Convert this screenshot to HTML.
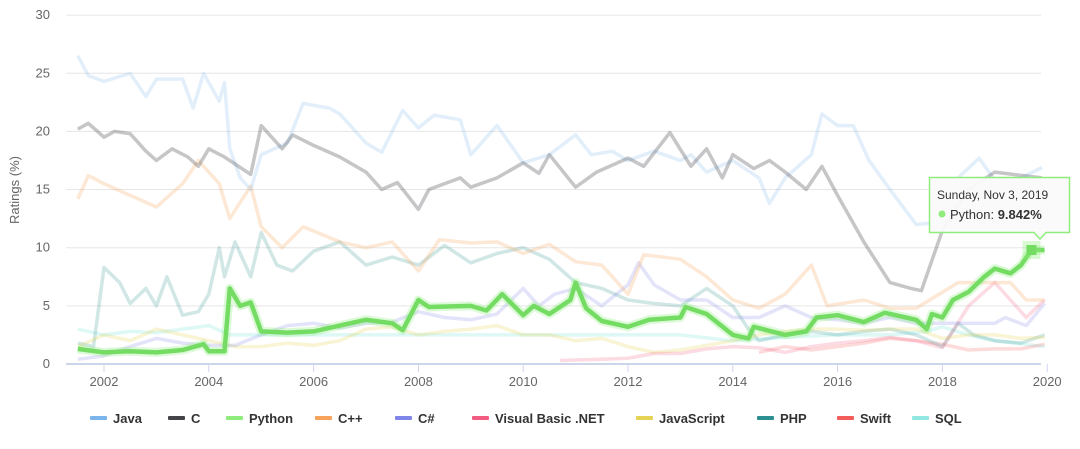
<!DOCTYPE html>
<html><head><meta charset="utf-8"><style>
body{margin:0;background:#fff;width:1080px;height:449px;overflow:hidden;font-family:"Liberation Sans",sans-serif}
svg{position:absolute;left:0;top:0}
text{font-family:"Liberation Sans",sans-serif}
</style></head><body>
<svg id="chart" width="1080" height="449"></svg>
<script>
const NS='http://www.w3.org/2000/svg';
const yTicks=[0,5,10,15,20,25,30];
const xTicks=[2002,2004,2006,2008,2010,2012,2014,2016,2018,2020];
const seriesNames=['Java','C','Python','C++','C#','Visual Basic .NET','JavaScript','PHP','Swift','SQL'];
const seriesColors=['#7cb5ec','#434348','#90ed7d','#f7a35c','#8085e9','#f15c80','#e4d354','#2b908f','#f45b5b','#91e8e1'];
const legendX=[113,191,249,338,418,495,659,780,860,935];

const javaX=[2001.5,2001.7,2002,2002.5,2002.8,2003,2003.5,2003.7,2003.9,2004.2,2004.3,2004.4,2004.6,2004.8,2005,2005.5,2005.8,2006.3,2006.5,2007,2007.3,2007.7,2008,2008.3,2008.8,2009,2009.5,2010,2010.5,2011,2011.3,2011.7,2012,2012.5,2013,2013.2,2013.5,2014,2014.5,2014.7,2015,2015.5,2015.7,2016,2016.3,2016.6,2017,2017.5,2018,2018.3,2018.7,2019,2019.5,2019.9];
const javaY=[26.5,24.8,24.3,25,23,24.5,24.5,22,25,22.6,24.2,18.5,16,15,18,19,22.4,22,21.5,19,18.2,21.8,20.3,21.4,21,18,20.5,17.3,18,19.7,18,18.3,17.5,18.3,17.5,18,16.5,17.5,16,13.8,16,18,21.5,20.5,20.5,17.5,15,12,12.2,16,17.7,15.8,16,16.9];
const cX=[2001.5,2001.7,2002,2002.2,2002.5,2002.8,2003,2003.3,2003.6,2003.8,2004,2004.3,2004.8,2005,2005.4,2005.6,2006,2006.5,2007,2007.3,2007.6,2008,2008.2,2008.8,2009,2009.5,2010,2010.3,2010.5,2011,2011.4,2012,2012.3,2012.8,2013.2,2013.5,2013.8,2014,2014.4,2014.7,2015,2015.4,2015.7,2016,2016.5,2017,2017.4,2017.6,2018,2018.5,2019,2019.9];
const cY=[20.2,20.7,19.5,20,19.8,18.3,17.5,18.5,17.8,17,18.5,17.8,16.3,20.5,18.5,19.7,18.8,17.8,16.5,15,15.6,13.3,15,16,15.2,16,17.3,16.4,18,15.2,16.5,17.7,17,19.9,17,18.5,16,18,16.8,17.5,16.5,15,17,14.5,10.5,7,6.5,6.3,11.5,15,16.5,16];
const pyX=[2001.5,2002,2002.5,2003,2003.5,2003.9,2004,2004.3,2004.4,2004.6,2004.8,2005,2005.5,2006,2006.5,2007,2007.5,2007.7,2008,2008.2,2009,2009.3,2009.6,2010,2010.2,2010.5,2010.9,2011,2011.2,2011.5,2012,2012.4,2013,2013.1,2013.5,2014,2014.3,2014.4,2015,2015.4,2015.6,2016,2016.5,2016.9,2017.5,2017.7,2017.8,2018,2018.2,2018.5,2018.8,2019,2019.3,2019.5,2019.7,2019.95];
const pyY=[1.3,1,1.1,1,1.2,1.7,1.1,1.1,6.5,5,5.3,2.8,2.7,2.8,3.3,3.8,3.5,2.9,5.5,4.9,5,4.6,6,4.2,5,4.3,5.5,7,4.8,3.7,3.2,3.8,4,4.9,4.3,2.5,2.2,3.2,2.5,2.8,4,4.2,3.6,4.4,3.8,3,4.3,4,5.5,6.2,7.5,8.2,7.8,8.5,9.8,9.8];
const cppX=[2001.5,2001.7,2002,2002.5,2003,2003.5,2003.8,2004.2,2004.4,2004.8,2005,2005.4,2005.8,2006.5,2007,2007.5,2008,2008.4,2009,2009.5,2010,2010.5,2011,2011.5,2012,2012.3,2013,2013.5,2014,2014.5,2015,2015.5,2015.8,2016.5,2017,2017.5,2018.3,2018.8,2019.3,2019.6,2019.95];
const cppY=[14.2,16.2,15.5,14.5,13.5,15.5,17.5,15.5,12.5,15.3,11.8,10,11.8,10.5,10,10.5,8,10.7,10.4,10.5,9.5,10.3,8.8,8.5,6,9.4,9,7.5,5.5,4.8,6,8.5,5,5.5,4.8,4.8,7,7,7,5.5,5.5];
const csX=[2001.5,2002,2002.5,2003,2003.5,2004,2004.5,2005,2005.5,2006,2006.5,2007,2007.5,2008,2008.5,2009,2009.5,2010,2010.3,2010.6,2011,2011.5,2012,2012.2,2012.5,2013,2013.5,2014,2014.5,2015,2015.5,2016,2016.5,2017,2017.5,2018,2018.5,2019,2019.2,2019.6,2019.95];
const csY=[0.4,0.7,1.5,2.2,1.8,1.6,1.6,2.5,3.3,3.5,3.1,3.5,3.6,4.5,4,3.8,4.3,6.5,5,6,6.5,5,6.8,8.7,6.8,5.5,5.5,4,4,5,4,3.8,3.5,4,3.5,3.5,3.5,3.5,4,3.3,5.2];
const vbX=[2010.7,2011.5,2012,2012.5,2013,2013.5,2014,2014.5,2015,2015.5,2016,2016.5,2017,2017.5,2018,2018.5,2019,2019.3,2019.6,2019.95];
const vbY=[0.3,0.4,0.5,0.9,0.9,1.3,1.5,1.4,1,1.5,1.8,2,2.3,2,1.4,5,7,5.5,4,5.5];
const jsX=[2001.5,2002,2002.5,2003,2003.5,2004,2004.5,2005,2005.5,2006,2006.5,2007,2007.5,2008,2008.5,2009,2009.5,2010,2010.5,2011,2011.5,2012,2012.5,2013,2013.5,2014,2014.5,2015,2015.5,2016,2016.5,2017,2017.5,2018,2018.5,2019,2019.5,2019.95];
const jsY=[1.5,2.5,2,3,2.5,2,1.5,1.5,1.8,1.6,2,3,3.2,2.5,2.8,3,3.3,2.5,2.5,2,2.2,1.5,1,1.2,1.6,2,2.5,2.8,3,3,2.9,3,3,2.2,2.5,2.5,2.2,2.3];
const phpX=[2001.5,2001.8,2002,2002.3,2002.5,2002.8,2003,2003.2,2003.5,2003.8,2004,2004.2,2004.3,2004.5,2004.8,2005,2005.3,2005.6,2006,2006.5,2007,2007.5,2008,2008.5,2009,2009.5,2010,2010.5,2011,2011.5,2012,2012.5,2013,2013.5,2014,2014.3,2014.5,2015,2015.5,2016,2016.5,2017,2017.5,2018,2018.3,2018.6,2019,2019.5,2019.95];
const phpY=[1.8,1.5,8.3,7,5.2,6.5,5,7.5,4.2,4.5,6,10,7.5,10.5,7.5,11.3,8.5,8,9.7,10.5,8.5,9.2,8.5,10.2,8.7,9.5,10,9,7,6.5,5.5,5.2,5,6.5,5,3,2,2.5,2.8,2.5,2.8,3,2.5,1.5,3.5,2.5,2,1.8,2.5];
const swX=[2014.5,2015,2015.5,2016,2016.5,2017,2017.5,2018,2018.5,2019,2019.5,2019.95];
const swY=[1,1.5,1.2,1.5,1.8,2.2,2,1.7,1.2,1.3,1.3,1.7];
const sqlX=[2001.5,2002,2002.5,2003,2004,2004.4,2010.8,2013,2014,2015,2016,2017,2017.7,2018,2018.5,2019,2019.95];
const sqlY=[3,2.5,2.8,2.7,3.3,2.5,2.5,2.5,2,2.3,2.5,2.5,2.8,3.2,2.5,2,1.5];

const X0=104,XPY=52.4,Y0=364,YPU=11.63;
function xs(v){return X0+(v-2002)*XPY;}
function ys(v){return Y0-v*YPU;}
const svg=document.getElementById('chart');
function mk(tag,attrs,parent){const e=document.createElementNS(NS,tag);for(const k in attrs)e.setAttribute(k,attrs[k]);(parent||svg).appendChild(e);return e;}

yTicks.forEach(t=>{
  const g=mk('line',{x1:66,x2:1041,y1:ys(t),y2:ys(t),stroke:t===0?'#ccd6eb':'#e6e6e6','stroke-width':t===0?2:1});
  
  
  const tx=mk('text',{x:50,y:ys(t)+4,'text-anchor':'end','font-size':13,fill:'#666'});
  tx.textContent=t;
  
  
});
xTicks.forEach(t=>{
  const l=mk('line',{x1:xs(t),x2:xs(t),y1:364,y2:372,stroke:'#ccd6eb','stroke-width':1});
  
  
  const tx=mk('text',{x:xs(t),y:386,'text-anchor':'middle','font-size':13,fill:'#666'});
  tx.textContent=t;
  
  
});
const at=mk('text',{x:19,y:190,'text-anchor':'middle','font-size':13,fill:'#666',transform:'rotate(-90 19 190)'});
at.textContent='Ratings (%)';



const allX=[javaX,cX,pyX,cppX,csX,vbX,jsX,phpX,swX,sqlX];
const allY=[javaY,cY,pyY,cppY,csY,vbY,jsY,phpY,swY,sqlY];
const opac=[0.22,0.3,1,0.25,0.22,0.22,0.25,0.22,0.22,0.3];
const order=[9,8,7,6,5,4,3,0,1,2];
order.forEach(i=>{
  const d=allX[i].map((x,k)=>(k?'L':'M')+xs(x).toFixed(1)+','+ys(allY[i][k]).toFixed(1)).join(' ');
  if(i===2){
    const h=mk('path',{d:d,fill:'none',stroke:'#90ed7d','stroke-width':9,'stroke-opacity':0.3,'stroke-linejoin':'round'});
    
    
  }
  const p=mk('path',{d:d,fill:'none',stroke:i===2?'#74dc63':seriesColors[i],'stroke-width':i===2?4.5:3.5,'stroke-opacity':opac[i],'stroke-linejoin':'round'});
  
  
});

// hover marker
const mx=xs(pyX[pyX.length-2]),my=ys(pyY[pyY.length-2]);
const mh=mk('rect',{x:mx-9,y:my-9,width:18,height:18,fill:'#90ed7d','fill-opacity':0.35});


const mm=mk('rect',{x:mx-5,y:my-5,width:10,height:10,fill:'#74dc63'});



// tooltip
const tg=mk('g',{});


mk('path',{d:'M929.5,177.5 H1069.5 V232.5 H1046 L1040,239 L1034,232.5 H929.5 Z',fill:'#fafafa','fill-opacity':0.95,stroke:'#90ed7d','stroke-width':1.5},tg);
const t1=mk('text',{x:937,y:199,'font-size':12,fill:'#333'},tg);t1.textContent='Sunday, Nov 3, 2019';
mk('circle',{cx:942,cy:214,r:3.5,fill:'#90ed7d'},tg);
const t2=mk('text',{x:950,y:219,'font-size':13,fill:'#333'},tg);
t2.innerHTML='Python: <tspan font-weight="bold">9.842%</tspan>';

// legend
seriesNames.forEach((n,i)=>{
  const g=mk('g',{});
  
  
  mk('rect',{x:legendX[i]-23,y:416,width:17,height:4,rx:1,fill:seriesColors[i]},g);
  const t=mk('text',{x:legendX[i],y:423,'font-size':13,'font-weight':'bold',fill:'#333'},g);
  t.textContent=n;
});
</script>
</body></html>
